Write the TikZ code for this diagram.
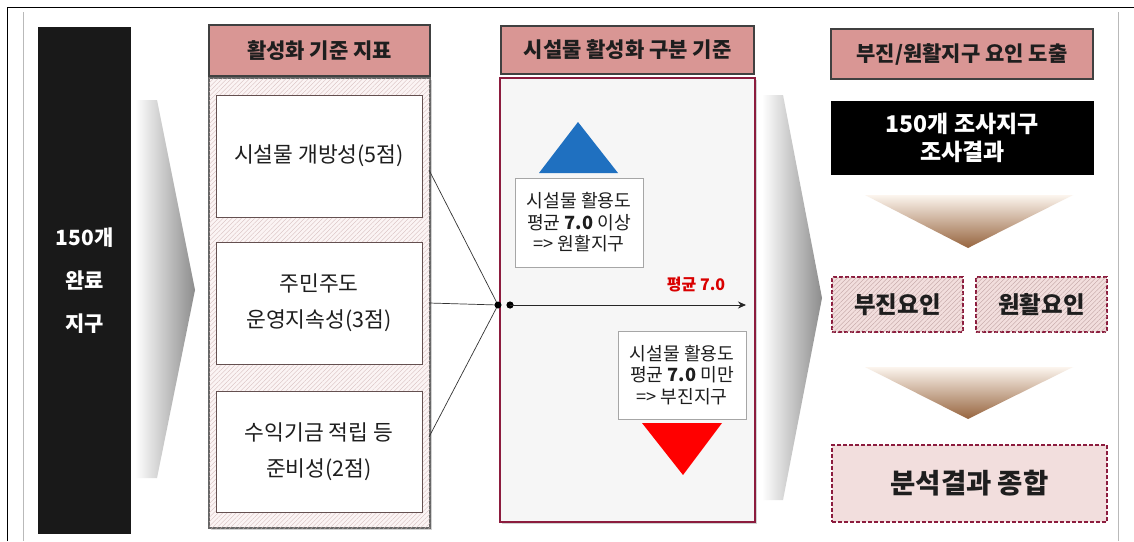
\documentclass[tikz,border=0pt]{standalone}
\usepackage{fontspec}
\setmainfont{Noto Sans CJK KR}
\usetikzlibrary{patterns.meta,shadows,arrows.meta}
\definecolor{hdrpink}{RGB}{217,150,148}
\definecolor{hdrline}{RGB}{64,64,64}
\definecolor{darkred}{RGB}{140,28,62}
\definecolor{hatchc}{RGB}{214,188,188}
\definecolor{hatchf}{RGB}{190,160,160}
\definecolor{panelpink}{RGB}{251,244,244}
\definecolor{lightpink}{RGB}{242,222,221}
\definecolor{bluetri}{RGB}{31,112,192}
\definecolor{browntop}{RGB}{252,245,238}
\definecolor{brownbot}{RGB}{150,100,62}
\definecolor{txt}{RGB}{30,30,30}
\definecolor{panelgray}{RGB}{246,246,246}
\definecolor{boxline}{RGB}{100,80,80}
\begin{document}
\begin{tikzpicture}[x=1pt,y=-1pt,
  header/.style={draw=hdrline, line width=1.2pt, fill=hdrpink, inner sep=0pt,
    text=txt, font=\bfseries\fontsize{21}{24}\selectfont},
  hatchpanel/.style={draw=hdrline!80, line width=1.2pt, inner sep=0pt,
    fill=panelpink, drop shadow={opacity=0.35,shadow xshift=2pt,shadow yshift=-2pt},
    postaction={pattern={Lines[angle=45,distance=3.2pt,line width=0.35pt]}, pattern color=hatchc}},
  critbox/.style={draw=boxline, line width=0.9pt, fill=white, inner sep=0pt,
    align=center, text=txt, font=\fontsize{21.5}{36}\selectfont},
  blackbox/.style={fill=black!90, inner sep=0pt, align=center, text=white,
    font=\bfseries\fontsize{23}{28}\selectfont},
  redpanel/.style={draw=darkred, line width=1.8pt, fill=panelgray, inner sep=0pt,
    drop shadow={opacity=0.35,shadow xshift=2pt,shadow yshift=-2pt}},
  notebox/.style={draw=gray!70, line width=0.8pt, fill=white, inner sep=0pt,
    align=center, text=txt, font=\fontsize{18.2}{21.5}\selectfont},
  factorbox/.style={draw=darkred, dashed, dash pattern=on 4pt off 2pt, line width=1.6pt,
    fill=lightpink, inner sep=0pt, text=txt, font=\bfseries\fontsize{23.5}{26}\selectfont},
  hatched/.style={postaction={pattern={Lines[angle=45,distance=3.2pt,line width=0.35pt]}, pattern color=hatchf}},
  link/.style={draw=black!80, line width=0.7pt},
  chevgray/.style={left color=white, right color=black!45, draw=none},
  chevbrown/.style={top color=browntop, bottom color=brownbot, draw=none}
]
\useasboundingbox (0,0) rectangle (1134,541);
\fill[white] (0,0) rectangle (1134,541);
% outer frame
\draw[black, line width=1pt] (7,541) -- (7,7) -- (1134,7);
\draw[gray!55, line width=0.8pt] (23,12) -- (23,541);
\draw[gray!55, line width=0.8pt] (1118,12) -- (1118,541);

% gray chevrons
\path[chevgray] (135,100) -- (157,100) -- (195,290) -- (157,478) -- (135,478) -- cycle;
\path[chevgray] (762,95) -- (783,95) -- (822,298) -- (783,500) -- (762,500) -- cycle;

% black column
\node[blackbox, minimum width=93, minimum height=507,
  font=\bfseries\fontsize{21}{43}\selectfont] (done) at (84.5,280.5) {150개\\완료\\지구};

% column 1
\node[header, minimum width=221, minimum height=51] (h1) at (319.5,50.5) {활성화 기준 지표};
\node[hatchpanel, minimum width=221, minimum height=450] (p1) at (319.5,303) {};
\node[critbox, minimum width=206, minimum height=122] (c1) at (319,156) {시설물 개방성(5점)};
\node[critbox, minimum width=206, minimum height=122] (c2) at (319,303) {주민주도\\운영지속성(3점)};
\node[critbox, minimum width=206, minimum height=121] (c3) at (319,451.5) {수익기금 적립 등\\준비성(2점)};

% column 2
\node[header, minimum width=253, minimum height=48] (h2) at (627.5,50) {시설물 활성화 구분 기준};
\node[redpanel, minimum width=255, minimum height=444] (p2) at (627.5,300) {};
\fill[bluetri] (578,122) -- (618,173) -- (539,173) -- cycle;
\node[notebox, minimum width=128, minimum height=89] (n1) at (579,222.5) {시설물 활용도\\평균 \textbf{7.0} 이상\\=> 원활지구};
\node[notebox, minimum width=128, minimum height=88] (n2) at (682,375) {시설물 활용도\\평균 \textbf{7.0} 미만\\=> 부진지구};
\fill[red] (642,423) -- (722,423) -- (683,475) -- cycle;

% connectors
\coordinate (s1) at (429,170);
\coordinate (s2) at (429,303);
\coordinate (s3) at (429,437);
\coordinate (conv) at (498,305);
\draw[link] (s1) -- (conv);
\draw[link] (s2) -- (conv);
\draw[link] (s3) -- (conv);
\fill[black] (conv) circle (3.5);
\coordinate (a0) at (510,305);
\coordinate (a1) at (746,305);
\fill[black] (a0) circle (3.6);
\draw[black!85, line width=1pt, -{Stealth[length=8pt,width=7pt]}] (a0) -- (a1);
\node[text=red!85!black, font=\bfseries\fontsize{16}{18}\selectfont] (avg) at (696,285) {평균 7.0};

% column 3
\node[header, minimum width=262, minimum height=50] (h3) at (962,54) {부진/원활지구 요인 도출};
\node[blackbox, fill=black, minimum width=263, minimum height=74] (res) at (962.5,138) {150개 조사지구\\조사결과};
\path[chevbrown] (865,195) -- (1073,195) -- (968,248) -- cycle;
\node[factorbox, hatched, minimum width=131, minimum height=55] (f1) at (897.5,304.5) {부진요인};
\node[factorbox, hatched, minimum width=131, minimum height=55] (f2) at (1041.5,304.5) {원활요인};
\path[chevbrown] (865,367) -- (1073,367) -- (968,419) -- cycle;
\node[factorbox, minimum width=275, minimum height=77, font=\bfseries\fontsize{27.5}{30}\selectfont] (sum) at (969.5,483.5) {분석결과 종합};
\end{tikzpicture}
\end{document}
